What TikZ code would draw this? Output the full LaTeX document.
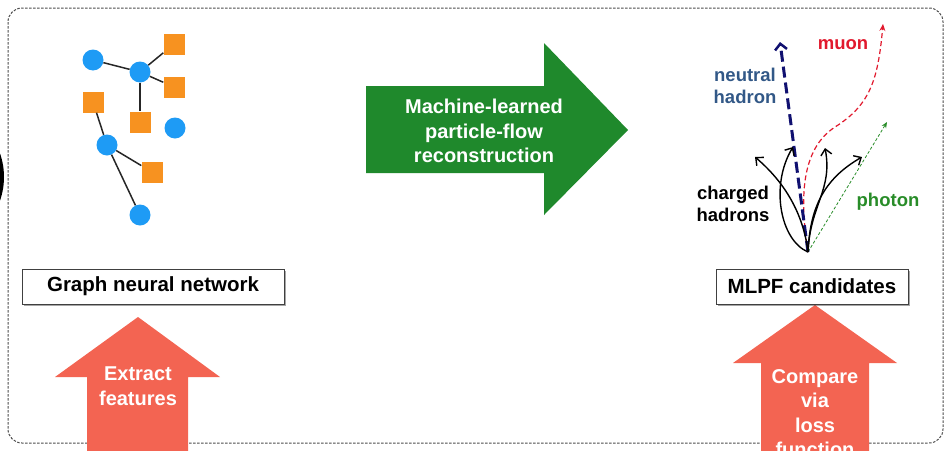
\documentclass[tikz,border=0pt]{standalone}
\usepackage{fontspec}
\setmainfont{Liberation Sans}
\usetikzlibrary{arrows.meta,shadows}

\definecolor{nodeblue}{RGB}{30,155,245}
\definecolor{nodeorange}{RGB}{247,146,32}
\definecolor{flowgreen}{RGB}{31,137,44}
\definecolor{salmon}{RGB}{243,100,82}
\definecolor{navyline}{RGB}{16,16,112}
\definecolor{steelblue}{RGB}{50,88,135}
\definecolor{muonred}{RGB}{225,25,45}
\definecolor{photongreen}{RGB}{40,140,40}

\tikzset{
  hit/.style={circle, fill=nodeblue, minimum size=21pt, inner sep=0pt},
  cluster/.style={rectangle, fill=nodeorange, minimum size=21pt, inner sep=0pt},
  gedge/.style={line width=1.5pt, draw=black!85},
  titlebox/.style={draw=black!75, line width=0.9pt, fill=white,
    font=\fontsize{20.5}{24}\selectfont\bfseries, inner sep=0pt,
    drop shadow={shadow xshift=1.5pt, shadow yshift=-1.5pt, opacity=0.35, fill=black}},
  arrowtext/.style={text=white, align=center, font=\fontsize{20}{24.5}\selectfont\bfseries},
  plabel/.style={align=center, font=\fontsize{18.5}{22}\selectfont\bfseries},
  charged/.style={line width=1.4pt, -{Straight Barb[length=6pt,width=11pt,line width=1.4pt]}},
}

\begin{document}
\begin{tikzpicture}[x=1pt,y=-1pt]
\useasboundingbox (0,0) rectangle (947,450);
\clip (0,0) rectangle (947,450);

% outer dashed frame
\draw[black!70, line width=1pt, dash pattern=on 2.5pt off 1.5pt, rounded corners=14pt]
  (8,8) rectangle (943,443);

% dark crescent at the left edge
\fill[black] (-67,177) circle (71);

% ---------------- graph of hits and clusters ----------------
\node[hit] (a) at (93,60) {};
\node[hit] (b) at (140,72) {};
\node[cluster] (s1) at (174,44) {};
\node[cluster] (s2) at (174,87) {};
\node[cluster] (s3) at (93,102) {};
\node[cluster] (s4) at (140,122) {};
\node[hit] (c) at (175,128) {};
\node[hit] (d) at (107,145) {};
\node[cluster] (s5) at (152,172) {};
\node[hit] (e) at (140,215) {};
\draw[gedge] (a) -- (b);
\draw[gedge] (b) -- (s1);
\draw[gedge] (b) -- (s2);
\draw[gedge] (b) -- (s4);
\draw[gedge] (s3) -- (d);
\draw[gedge] (d) -- (s5);
\draw[gedge] (d) -- (e);

% ---------------- big block arrows ----------------
\fill[flowgreen] (366,86) -- (544,86) -- (544,43) -- (628,130) -- (544,215)
  -- (544,173) -- (366,173) -- cycle;
\node[arrowtext] (mlpf) at (484,131) {Machine-learned\\particle-flow\\reconstruction};

\fill[salmon] (87,470) -- (87,377) -- (55,377) -- (138,317) -- (220,377)
  -- (188,377) -- (188,470) -- cycle;
\node[arrowtext] (extract) at (138,386) {Extract\\features};

\fill[salmon] (761,470) -- (761,363) -- (733,363) -- (815,305) -- (897,363)
  -- (869,363) -- (869,470) -- cycle;
\node[arrowtext] (compare) at (815,413) {Compare\\via\\loss\\function};

% ---------------- boxed titles ----------------
\node[titlebox, minimum width=262pt, minimum height=35pt] (gnn) at (153,286.5)
  {Graph neural network};
\node[titlebox, minimum width=192pt, minimum height=35pt] (cand) at (812,286.5)
  {MLPF candidates};

% ---------------- reconstructed particles ----------------
\coordinate (vtx) at (808,252);
\coordinate (nh) at (780,42);
\coordinate (mu) at (883,24);
\coordinate (ph) at (887,122);
\coordinate (ch1) at (755,157);
\coordinate (ch2) at (793,147);
\coordinate (ch3) at (825,148);
\coordinate (ch4) at (862,157);

\draw[photongreen, line width=0.8pt, dash pattern=on 3pt off 2pt,
  -{Stealth[length=6pt,width=5pt]}] (vtx) -- (ph);
\draw[muonred, line width=1.2pt, dash pattern=on 5pt off 3pt,
  -{Stealth[length=7pt,width=6pt]}]
  (vtx) .. controls (800,200) and (800,150) .. (835,127)
        .. controls (870,105) and (878,80) .. (mu);
\draw[navyline, line width=3pt, dash pattern=on 11pt off 5pt,
  -{Straight Barb[length=6pt,width=12pt,line width=2.5pt]}] (vtx) -- (nh);

\draw[charged] (vtx) .. controls (804,218) and (788,185) .. (ch1);
\draw[charged] (vtx) .. controls (780,240) and (770,185) .. (ch2);
\draw[charged] (vtx) .. controls (810,205) and (833,190) .. (ch3);
\draw[charged] (vtx) .. controls (810,210) and (822,180) .. (ch4);

\node[plabel, text=steelblue] (lnh) at (745,86) {neutral\\hadron};
\node[plabel, text=muonred] (lmu) at (843,45) {muon};
\node[plabel, text=black] (lch) at (733,204) {charged\\hadrons};
\node[plabel, text=photongreen] (lph) at (888,202) {photon};

\end{tikzpicture}
\end{document}
